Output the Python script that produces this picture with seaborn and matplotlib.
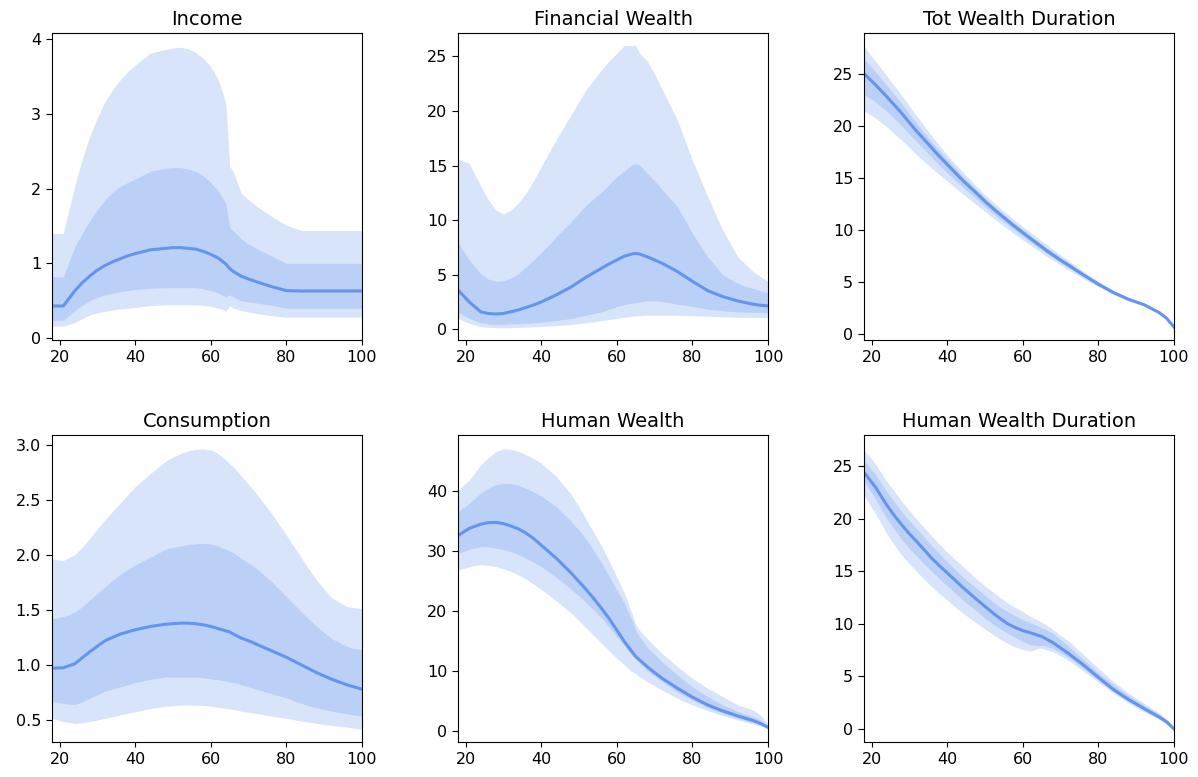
import numpy as np
import pandas as pd
import matplotlib
matplotlib.use("Agg")
import matplotlib.pyplot as plt
import seaborn as sns

# Ages at which the simulated percentiles are reported
ages = [18, 21, 24, 26, 28, 30, 32, 34, 36, 38, 40, 44, 48, 50, 52, 54, 56, 58, 60, 62,
        64, 65, 66, 68, 70, 72, 76, 80, 84, 88, 92, 96, 98, 100]

# Income
income_p50 = [0.43, 0.43, 0.63, 0.74, 0.83, 0.91, 0.97, 1.02, 1.06, 1.10, 1.13, 1.18, 1.20, 1.21,
              1.21, 1.20, 1.19, 1.16, 1.12, 1.07, 0.99, 0.93, 0.89, 0.83, 0.79, 0.755, 0.69, 0.635,
              0.63, 0.63, 0.63, 0.63, 0.63, 0.63]
income_p25 = [0.24, 0.24, 0.37, 0.44, 0.50, 0.545, 0.58, 0.60, 0.62, 0.635, 0.65, 0.665, 0.675,
              0.675, 0.675, 0.675, 0.675, 0.66, 0.635, 0.60, 0.555, 0.58, 0.55, 0.50, 0.485, 0.47,
              0.44, 0.40, 0.40, 0.40, 0.40, 0.40, 0.40, 0.40]
income_p75 = [0.82, 0.82, 1.22, 1.40, 1.57, 1.72, 1.85, 1.95, 2.03, 2.08, 2.13, 2.23, 2.27, 2.28,
              2.28, 2.26, 2.23, 2.17, 2.08, 1.97, 1.80, 1.48, 1.43, 1.33, 1.26, 1.20, 1.10, 1.00,
              1.00, 1.00, 1.00, 1.00, 1.00, 1.00]
income_p05 = [0.16, 0.16, 0.21, 0.26, 0.31, 0.335, 0.36, 0.375, 0.39, 0.40, 0.41, 0.435, 0.445,
              0.445, 0.445, 0.445, 0.445, 0.44, 0.425, 0.40, 0.365, 0.43, 0.40, 0.37, 0.35, 0.33,
              0.30, 0.28, 0.28, 0.28, 0.28, 0.28, 0.28, 0.28]
income_p95 = [1.40, 1.40, 2.03, 2.39, 2.70, 2.95, 3.16, 3.32, 3.45, 3.56, 3.65, 3.81, 3.86, 3.88,
              3.89, 3.87, 3.82, 3.74, 3.63, 3.45, 3.14, 2.30, 2.22, 1.94, 1.85, 1.77, 1.63, 1.51,
              1.44, 1.44, 1.44, 1.44, 1.44, 1.44]

# Financial wealth
fw_p50 = [3.6, 2.5, 1.6, 1.45, 1.4, 1.45, 1.6, 1.78, 2.0, 2.23, 2.5, 3.15, 3.9, 4.35, 4.8, 5.2,
          5.6, 6.0, 6.35, 6.7, 6.9, 6.95, 6.9, 6.65, 6.35, 6.05, 5.3, 4.4, 3.55, 3.0, 2.6, 2.3,
          2.2, 2.15]
fw_p25 = [1.6, 1.0, 0.6, 0.5, 0.45, 0.45, 0.5, 0.52, 0.55, 0.6, 0.65, 0.8, 1.0, 1.15, 1.3, 1.45,
          1.6, 1.85, 2.1, 2.25, 2.4, 2.45, 2.5, 2.6, 2.6, 2.55, 2.3, 2.1, 1.85, 1.7, 1.6, 1.55,
          1.55, 1.5]
fw_p75 = [7.95, 6.35, 5.1, 4.6, 4.4, 4.45, 4.7, 5.1, 5.75, 6.35, 7.0, 8.5, 9.9, 10.65, 11.4,
          12.0, 12.6, 13.3, 14.0, 14.5, 15.1, 15.15, 15.1, 14.3, 13.6, 12.8, 11.25, 8.8, 6.65,
          5.0, 4.2, 3.75, 3.55, 3.35]
fw_p05 = [1.0, 0.55, 0.25, 0.18, 0.15, 0.15, 0.15, 0.17, 0.2, 0.22, 0.25, 0.35, 0.45, 0.52, 0.6,
          0.7, 0.8, 0.9, 1.0, 1.1, 1.2, 1.22, 1.25, 1.3, 1.3, 1.3, 1.3, 1.25, 1.2, 1.15, 1.1, 1.1,
          1.08, 1.05]
fw_p95 = [15.6, 15.2, 13.1, 11.9, 10.95, 10.55, 10.95, 11.6, 12.5, 13.6, 14.9, 17.4, 19.7, 20.9,
          22.0, 22.9, 23.8, 24.6, 25.3, 26.0, 26.0, 26.0, 25.3, 24.6, 23.4, 22.0, 19.2, 15.5,
          12.2, 9.1, 6.65, 5.3, 4.85, 4.4]

# Total wealth duration
twd_p50 = [25.0, 23.95, 22.8, 22.0, 21.2, 20.3, 19.45, 18.65, 17.85, 17.05, 16.3, 14.8, 13.45,
           12.75, 12.1, 11.5, 10.9, 10.3, 9.75, 9.2, 8.65, 8.4, 8.1, 7.6, 7.1, 6.65, 5.7, 4.8,
           4.0, 3.35, 2.85, 2.1, 1.55, 0.7]
twd_p25 = [23.0, 22.3, 21.4, 20.7, 20.0, 19.2, 18.45, 17.7, 16.95, 16.2, 15.5, 14.15, 12.9,
           12.25, 11.65, 11.05, 10.5, 9.95, 9.4, 8.88, 8.35, 8.1, 7.85, 7.35, 6.88, 6.42, 5.52,
           4.68, 3.9, 3.28, 2.8, 2.06, 1.52, 0.68]
twd_p75 = [26.4, 25.2, 23.9, 23.0, 22.1, 21.15, 20.2, 19.3, 18.4, 17.6, 16.8, 15.2, 13.8, 13.1,
           12.45, 11.8, 11.2, 10.6, 10.05, 9.5, 8.95, 8.7, 8.4, 7.9, 7.4, 6.9, 5.9, 4.95, 4.1,
           3.43, 2.9, 2.14, 1.57, 0.72]
twd_p05 = [21.45, 20.75, 19.9, 19.25, 18.6, 17.9, 17.2, 16.55, 15.9, 15.3, 14.7, 13.5, 12.35,
           11.8, 11.2, 10.65, 10.1, 9.55, 9.05, 8.55, 8.05, 7.8, 7.55, 7.1, 6.65, 6.2, 5.35, 4.55,
           3.8, 3.2, 2.75, 2.03, 1.5, 0.66]
twd_p95 = [27.6, 26.2, 24.8, 23.85, 22.9, 21.9, 20.9, 19.95, 19.0, 18.1, 17.2, 15.6, 14.1, 13.4,
           12.75, 12.1, 11.5, 10.9, 10.35, 9.8, 9.25, 8.95, 8.7, 8.15, 7.6, 7.1, 6.05, 5.1, 4.2,
           3.5, 2.95, 2.17, 1.6, 0.74]

# Consumption
cons_p50 = [0.97, 0.975, 1.01, 1.065, 1.12, 1.17, 1.22, 1.25, 1.28, 1.30, 1.32, 1.35, 1.37,
            1.375, 1.38, 1.38, 1.375, 1.365, 1.35, 1.33, 1.31, 1.30, 1.28, 1.245, 1.22, 1.19,
            1.13, 1.07, 1.0, 0.93, 0.87, 0.82, 0.80, 0.78]
cons_p25 = [0.67, 0.65, 0.64, 0.665, 0.70, 0.73, 0.76, 0.78, 0.80, 0.82, 0.84, 0.87, 0.89, 0.89,
            0.89, 0.89, 0.89, 0.885, 0.875, 0.865, 0.855, 0.848, 0.84, 0.82, 0.80, 0.78, 0.74,
            0.70, 0.65, 0.61, 0.58, 0.555, 0.545, 0.535]
cons_p75 = [1.42, 1.44, 1.48, 1.53, 1.59, 1.65, 1.71, 1.77, 1.82, 1.87, 1.91, 1.98, 2.05, 2.07,
            2.08, 2.095, 2.10, 2.105, 2.10, 2.08, 2.05, 2.035, 2.02, 1.97, 1.925, 1.88, 1.76,
            1.62, 1.48, 1.35, 1.24, 1.17, 1.15, 1.14]
cons_p05 = [0.515, 0.485, 0.47, 0.475, 0.485, 0.50, 0.515, 0.53, 0.545, 0.56, 0.575, 0.605,
            0.625, 0.63, 0.635, 0.637, 0.635, 0.632, 0.625, 0.615, 0.605, 0.60, 0.595, 0.58,
            0.57, 0.56, 0.535, 0.515, 0.49, 0.47, 0.45, 0.435, 0.425, 0.415]
cons_p95 = [1.96, 1.95, 2.0, 2.07, 2.15, 2.235, 2.32, 2.395, 2.47, 2.545, 2.62, 2.74, 2.85,
            2.89, 2.92, 2.945, 2.96, 2.963, 2.955, 2.92, 2.86, 2.83, 2.80, 2.72, 2.64, 2.56,
            2.38, 2.18, 1.97, 1.77, 1.61, 1.53, 1.52, 1.51]

# Human wealth
hw_p50 = [32.6, 33.8, 34.5, 34.75, 34.8, 34.6, 34.2, 33.7, 33.0, 32.1, 31.0, 28.8, 26.3, 24.9,
          23.5, 22.0, 20.4, 18.7, 16.8, 14.9, 13.2, 12.4, 11.8, 10.7, 9.7, 8.75, 7.1, 5.6, 4.3,
          3.3, 2.45, 1.7, 1.2, 0.55]
hw_p25 = [29.6, 30.3, 30.75, 30.7, 30.5, 30.25, 29.9, 29.4, 28.8, 28.15, 27.4, 25.6, 23.6, 22.5,
          21.3, 20.1, 18.8, 17.3, 15.7, 14.2, 12.6, 12.1, 11.5, 10.1, 9.1, 8.2, 6.5, 5.1, 3.85,
          2.9, 2.05, 1.35, 0.95, 0.45]
hw_p75 = [36.6, 38.0, 39.7, 40.5, 41.1, 41.3, 41.3, 41.0, 40.5, 39.9, 39.2, 37.4, 34.9, 33.5,
          31.9, 30.0, 28.0, 25.8, 23.5, 21.3, 18.5, 16.8, 15.7, 14.0, 12.7, 11.5, 9.3, 7.35, 5.7,
          4.3, 3.2, 2.35, 1.8, 0.8]
hw_p05 = [26.85, 27.4, 27.75, 27.65, 27.4, 27.05, 26.6, 26.0, 25.3, 24.5, 23.6, 21.7, 19.6,
          18.4, 17.1, 15.85, 14.6, 13.35, 12.1, 11.0, 9.85, 9.5, 9.0, 8.2, 7.5, 6.8, 5.4, 4.3,
          3.35, 2.5, 1.8, 1.1, 0.8, 0.35]
hw_p95 = [40.2, 41.9, 44.4, 45.6, 46.6, 47.1, 47.0, 46.65, 46.1, 45.45, 44.7, 42.5, 39.4, 37.4,
          35.2, 33.0, 30.8, 28.3, 25.7, 23.0, 19.6, 17.7, 16.8, 15.4, 14.1, 12.9, 10.7, 8.75,
          7.1, 5.7, 4.3, 3.45, 2.6, 1.2]

# Human wealth duration
hwd_p50 = [24.4, 23.0, 21.3, 20.3, 19.4, 18.55, 17.8, 17.0, 16.2, 15.5, 14.85, 13.5, 12.25,
           11.65, 11.05, 10.5, 10.0, 9.65, 9.35, 9.15, 8.9, 8.8, 8.6, 8.2, 7.7, 7.2, 6.1, 4.9,
           3.75, 2.8, 1.95, 1.15, 0.7, 0.0]
hwd_p25 = [23.5, 21.9, 20.0, 19.0, 18.0, 17.15, 16.4, 15.65, 14.95, 14.25, 13.6, 12.3, 11.15,
           10.55, 10.0, 9.55, 9.1, 8.7, 8.3, 8.0, 7.9, 7.95, 7.9, 7.65, 7.25, 6.85, 5.75, 4.65,
           3.55, 2.6, 1.8, 1.0, 0.55, 0.0]
hwd_p75 = [25.5, 24.2, 22.55, 21.6, 20.65, 19.8, 19.0, 18.2, 17.4, 16.65, 15.9, 14.5, 13.3,
           12.7, 12.1, 11.6, 11.15, 10.75, 10.4, 10.1, 9.8, 9.6, 9.45, 9.1, 8.5, 7.9, 6.6, 5.35,
           4.2, 3.15, 2.3, 1.4, 0.85, 0.05]
hwd_p05 = [22.2, 20.5, 18.6, 17.5, 16.5, 15.7, 14.95, 14.2, 13.5, 12.85, 12.25, 11.05, 10.0,
           9.5, 9.0, 8.55, 8.15, 7.8, 7.55, 7.4, 7.65, 7.7, 7.55, 7.35, 6.95, 6.55, 5.5, 4.45,
           3.4, 2.45, 1.65, 0.9, 0.45, 0.0]
hwd_p95 = [26.55, 25.2, 23.55, 22.6, 21.65, 20.75, 19.9, 19.1, 18.3, 17.55, 16.8, 15.5, 14.2,
           13.6, 13.05, 12.5, 12.0, 11.55, 11.15, 10.7, 10.35, 10.15, 9.95, 9.45, 8.9, 8.4, 7.1,
           5.75, 4.5, 3.4, 2.45, 1.55, 0.9, 0.05]

titles = ["Income", "Financial Wealth", "Tot Wealth Duration",
          "Consumption", "Human Wealth", "Human Wealth Duration"]
panels = [
    (income_p05, income_p25, income_p50, income_p75, income_p95),
    (fw_p05, fw_p25, fw_p50, fw_p75, fw_p95),
    (twd_p05, twd_p25, twd_p50, twd_p75, twd_p95),
    (cons_p05, cons_p25, cons_p50, cons_p75, cons_p95),
    (hw_p05, hw_p25, hw_p50, hw_p75, hw_p95),
    (hwd_p05, hwd_p25, hwd_p50, hwd_p75, hwd_p95),
]
ylims = [(-0.025, 4.08), (-0.98, 27.15), (-0.55, 28.9),
         (0.30, 3.09), (-1.9, 49.4), (-1.24, 27.95)]
yticks = [[0, 1, 2, 3, 4], [0, 5, 10, 15, 20, 25], [0, 5, 10, 15, 20, 25],
          [0.5, 1.0, 1.5, 2.0, 2.5, 3.0], [0, 10, 20, 30, 40], [0, 5, 10, 15, 20, 25]]

color = "cornflowerblue"

W, H = 1198, 777
fig = plt.figure(figsize=(W / 100, H / 100), dpi=100)
lefts = [52, 458, 864]
tops = [33, 435]
aw, ah = 310, 307

for i, (title, bands) in enumerate(zip(titles, panels)):
    r, c = divmod(i, 3)
    ax = fig.add_axes([lefts[c] / W, 1 - (tops[r] + ah) / H, aw / W, ah / H])
    p05, p25, p50, p75, p95 = bands
    ax.fill_between(ages, p05, p95, color=color, alpha=0.25, linewidth=0)
    ax.fill_between(ages, p25, p75, color=color, alpha=0.25, linewidth=0)
    df = pd.DataFrame({"age": ages, "value": p50})
    sns.lineplot(data=df, x="age", y="value", ax=ax, color=color, linewidth=2.2)
    ax.set_xlim(18, 100)
    ax.set_ylim(*ylims[i])
    ax.set_xticks([20, 40, 60, 80, 100])
    ax.set_yticks(yticks[i])
    if i == 3:
        ax.set_yticklabels(["0.5", "1.0", "1.5", "2.0", "2.5", "3.0"])
    ax.tick_params(axis="both", labelsize=11.5)
    ax.tick_params(axis="y", length=4.3)
    ax.tick_params(axis="x", length=3.4)
    ax.set_xlabel("")
    ax.set_ylabel("")
    ax.set_title(title, fontsize=14, pad=6)

fig.savefig("out.png", dpi=100)
